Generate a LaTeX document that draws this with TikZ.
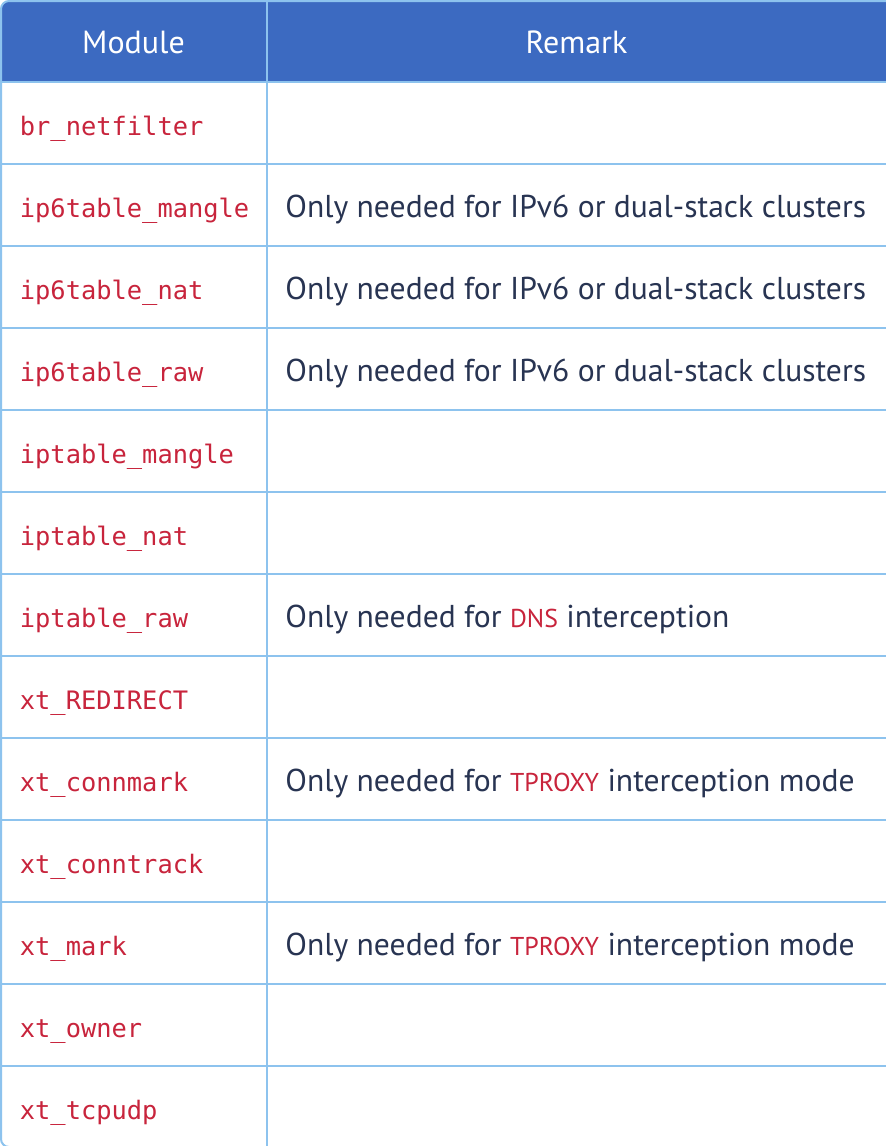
\documentclass[tikz,border=0pt]{standalone}
\usepackage{fontspec}
\setmainfont{PT Sans}
\newfontfamily\codefont{DejaVu Sans Mono}
\definecolor{hdrblue}{RGB}{60,106,193}
\definecolor{gridblue}{RGB}{141,195,238}
\definecolor{txtdark}{RGB}{40,52,82}
\definecolor{codered}{RGB}{200,36,60}
\tikzset{
  gridline/.style={draw=gridblue, line width=1pt},
  headtext/.style={anchor=base, text=white, font=\fontsize{16pt}{19pt}\selectfont, inner sep=0pt},
  modtext/.style={anchor=base west, text=codered, font=\codefont\fontsize{12.7pt}{15pt}\selectfont, inner sep=0pt},
  remtext/.style={anchor=base west, text=txtdark, font=\fontsize{15.8pt}{19pt}\selectfont, inner sep=0pt},
}
\newcommand{\redcode}[1]{{\fontsize{12.9pt}{15pt}\selectfont\textcolor{codered}{#1}}}
\begin{document}
\begin{tikzpicture}[x=0.5pt,y=-0.5pt]
\useasboundingbox (0,0) rectangle (886,1146);
\begin{scope}
\clip (0,0) rectangle (886,1146);
\fill[white] (0,0) rectangle (886,1146);
\fill[hdrblue] (1,82) [rounded corners=4pt] -- (1,1) -- (920,1) [sharp corners] -- (920,82) -- cycle;
\foreach \i in {1,...,13} {
  \draw[gridline] (1,82*\i) -- (920,82*\i);
}
\draw[gridline] (267,1) -- (267,1150);
\draw[gridline, rounded corners=4pt] (1,1) rectangle (920,1147);
\end{scope}
\node[headtext] (hmod) at (133.5,53) {Module};
\node[headtext] (hrem) at (576.5,53) {Remark};
\foreach \n/\i in {br\_netfilter/1, ip6table\_mangle/2, ip6table\_nat/3, ip6table\_raw/4, iptable\_mangle/5, iptable\_nat/6, iptable\_raw/7, xt\_REDIRECT/8, xt\_connmark/9, xt\_conntrack/10, xt\_mark/11, xt\_owner/12, xt\_tcpudp/13} {
  \node[modtext] (m\i) at (19.5,82*\i+53) {\n};
}
\node[remtext] (r2) at (285,82*2+53) {Only needed for IPv6 or dual-stack clusters};
\node[remtext] (r3) at (285,82*3+53) {Only needed for IPv6 or dual-stack clusters};
\node[remtext] (r4) at (285,82*4+53) {Only needed for IPv6 or dual-stack clusters};
\node[remtext] (r7) at (285,82*7+53) {Only needed for \redcode{DNS} interception};
\node[remtext] (r9) at (285,82*9+53) {Only needed for \redcode{TPROXY} interception mode};
\node[remtext] (r11) at (285,82*11+53) {Only needed for \redcode{TPROXY} interception mode};
\end{tikzpicture}
\end{document}
